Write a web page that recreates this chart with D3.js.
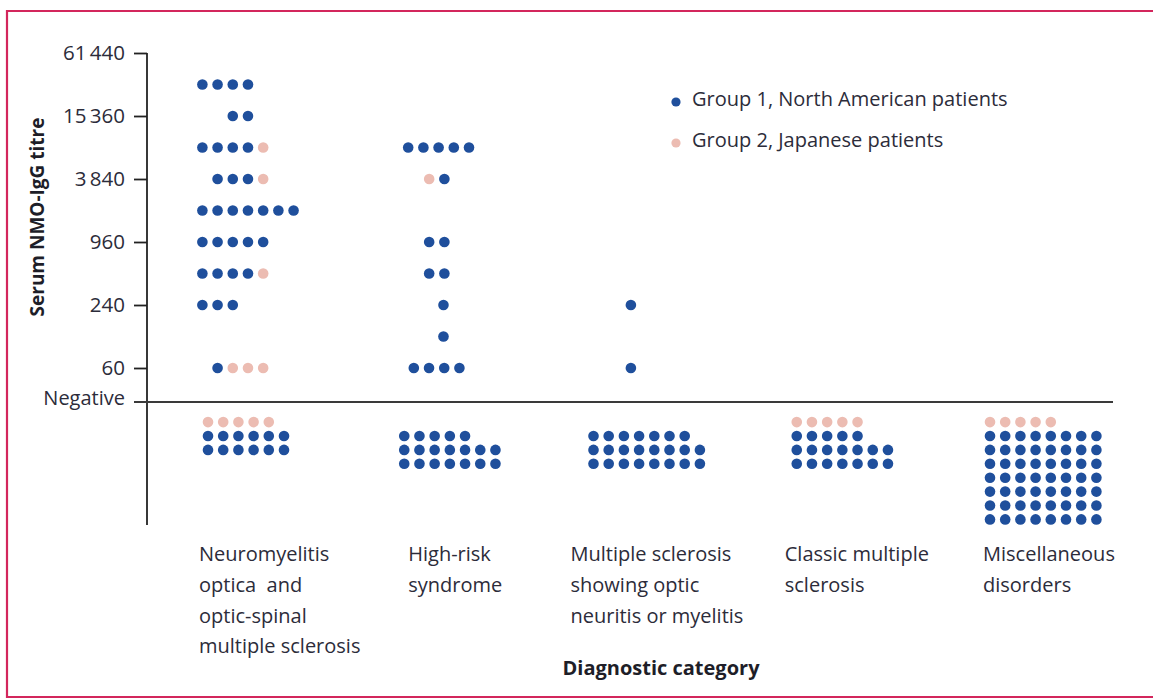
<!DOCTYPE html>
<html>
<head>
<meta charset="utf-8">
<script src="https://cdn.jsdelivr.net/npm/d3@7"></script>
<style>
  html, body { margin: 0; padding: 0; background: #fff; }
  svg { display: block; font-family: "Open Sans", "Noto Sans", sans-serif; }
  tspan { white-space: pre; }
</style>
</head>
<body>
<svg id="chart" width="1153" height="700"></svg>
<script>
// Diagnostic categories (multi-line labels)
const categories = [
  "Neuromyelitis optica and optic-spinal multiple sclerosis",
  "High-risk syndrome",
  "Multiple sclerosis showing optic neuritis or myelitis",
  "Classic multiple sclerosis",
  "Miscellaneous disorders"
];
const categoryLines = [
  ["Neuromyelitis", "optica  and", "optic-spinal", "multiple sclerosis"],
  ["High-risk", "syndrome"],
  ["Multiple sclerosis", "showing optic", "neuritis or myelitis"],
  ["Classic multiple", "sclerosis"],
  ["Miscellaneous", "disorders"]
];

// Titre levels with seropositive patients (doubling dilutions)
const titreLevels = [30720, 15360, 7680, 3840, 1920, 960, 480, 240, 120, 60];
const tickValues = [61440, 15360, 3840, 960, 240, 60];
const tickLabels = ["61\u2009440", "15\u2009360", "3\u2009840", "960", "240", "60"];

// Number of seropositive patients at each titre level, per category
const group1Positive = [
  [4, 2, 4, 3, 7, 5, 4, 3, 0, 1],
  [0, 0, 5, 1, 0, 2, 2, 1, 1, 4],
  [0, 0, 0, 0, 0, 0, 0, 1, 0, 1],
  [0, 0, 0, 0, 0, 0, 0, 0, 0, 0],
  [0, 0, 0, 0, 0, 0, 0, 0, 0, 0]
];
const group2Positive = [
  [0, 0, 1, 1, 0, 0, 1, 0, 0, 3],
  [0, 0, 0, 1, 0, 0, 0, 0, 0, 0],
  [0, 0, 0, 0, 0, 0, 0, 0, 0, 0],
  [0, 0, 0, 0, 0, 0, 0, 0, 0, 0],
  [0, 0, 0, 0, 0, 0, 0, 0, 0, 0]
];

// Seronegative patients per category
const group1Negative = [12, 19, 23, 19, 56];
const group2Negative = [5, 0, 0, 5, 5];

const legendLabels = ["Group 1, North American patients", "Group 2, Japanese patients"];

// ---- layout ----
const colors = { g1: "#1f4f9c", g2: "#ecbcb2" };
const textColor = "#2c2c3a";
const dotR = 5.3;
const stepX = 15.2;   // horizontal spacing between dots
const stepY = 13.9;   // vertical spacing of rows below the baseline
const negCols = [6, 7, 8, 7, 8];          // dots per row in the seronegative block
const anchorNudge = [0, 0, -7, 0, -3];    // fine shift of each category block
const labelNudge = [-9, 4, -30, -12, -10];
const group2Leading = [false, true, false, false, false];
// start column (in dot steps) of each seropositive row
const rowStart = [
  [-0.37, 1.63, -0.37, 0.63, -0.37, -0.37, -0.37, -0.37, 0, 0.63],
  [0, 0, 0.26, 1.64, 0, 1.64, 1.64, 2.58, 2.58, 0.63],
  [0, 0, 0, 0, 0, 0, 0, 2.46, 0, 2.46],
  [0, 0, 0, 0, 0, 0, 0, 0, 0, 0],
  [0, 0, 0, 0, 0, 0, 0, 0, 0, 0]
];

const svg = d3.select("#chart");

// frame
svg.append("path")
  .attr("d", "M1160,11 H7 V697 H1160")
  .attr("fill", "none").attr("stroke", "#d3265c").attr("stroke-width", 2.2);

const axisX = 147;
const baselineY = 402;
const y = d3.scaleLog().base(2).domain([60, 61440]).range([368, 53]);
const x = d3.scalePoint().domain(categories).range([208, 993]);
const anchor = (i) => x(categories[i]) + anchorNudge[i];

// y axis
const yAxis = d3.axisLeft(y)
  .tickValues(tickValues)
  .tickFormat((d, i) => tickLabels[i])
  .tickSize(13)
  .tickPadding(9);
const gy = svg.append("g").attr("transform", `translate(${axisX},0)`).call(yAxis);
gy.select(".domain").remove();
gy.selectAll(".tick line").attr("stroke", "#222").attr("stroke-width", 1.8);
gy.selectAll(".tick text")
  .attr("fill", textColor).attr("font-size", 20.5).attr("font-family", "Open Sans, sans-serif")
  .attr("dy", "0.3em");

svg.append("line")
  .attr("x1", axisX).attr("x2", axisX).attr("y1", 53).attr("y2", 525)
  .attr("stroke", "#222").attr("stroke-width", 1.8);

// baseline separating positive from negative
svg.append("line")
  .attr("x1", 134).attr("x2", 1113).attr("y1", baselineY).attr("y2", baselineY)
  .attr("stroke", "#3a3a3a").attr("stroke-width", 2);
svg.append("text")
  .attr("x", 125).attr("y", baselineY + 3)
  .attr("text-anchor", "end").attr("fill", textColor).attr("font-size", 20)
  .text("Negative");

// axis title
svg.append("text")
  .attr("transform", "translate(44,217) rotate(-90)")
  .attr("text-anchor", "middle").attr("font-weight", "bold").attr("font-size", 19)
  .attr("fill", "#1e1e28")
  .text("Serum NMO-IgG titre");

// build dot list
const dots = [];
categories.forEach((cat, ci) => {
  const a = anchor(ci);
  titreLevels.forEach((t, li) => {
    const n1 = group1Positive[ci][li], n2 = group2Positive[ci][li];
    if (n1 + n2 === 0) return;
    const seq = group2Leading[ci]
      ? d3.range(n2).map(() => "g2").concat(d3.range(n1).map(() => "g1"))
      : d3.range(n1).map(() => "g1").concat(d3.range(n2).map(() => "g2"));
    seq.forEach((g, k) => {
      dots.push({ g, cx: a + (rowStart[ci][li] + k) * stepX, cy: y(t) });
    });
  });
  // seronegative block: group 2 on top row, group 1 filled from the bottom up
  const cols = negCols[ci];
  const n1 = group1Negative[ci];
  const rows = Math.ceil(n1 / cols);
  const rem = n1 % cols;
  const firstRowY = baselineY + 34;
  for (let k = 0; k < n1; k++) {
    const fromEnd = n1 - 1 - k;
    const row = rows - 1 - Math.floor(fromEnd / cols);
    const col = (row === 0 && rem !== 0) ? k : (k - rem) % cols;
    dots.push({ g: "g1", cx: a + col * stepX, cy: firstRowY + row * stepY });
  }
  for (let k = 0; k < group2Negative[ci]; k++) {
    dots.push({ g: "g2", cx: a + k * stepX, cy: firstRowY - stepY });
  }
});

svg.append("g").selectAll("circle").data(dots).join("circle")
  .attr("cx", d => d.cx).attr("cy", d => d.cy).attr("r", dotR)
  .attr("fill", d => colors[d.g]);

// category labels
categories.forEach((cat, ci) => {
  const lx = x(cat) + labelNudge[ci];
  const t = svg.append("text").attr("fill", textColor).attr("font-size", 20);
  categoryLines[ci].forEach((line, li) => {
    t.append("tspan").attr("x", lx).attr("y", 561 + li * 30.8).text(line);
  });
});

svg.append("text")
  .attr("x", 661).attr("y", 675).attr("text-anchor", "middle")
  .attr("font-weight", "bold").attr("font-size", 20).attr("fill", "#1e1e28")
  .text("Diagnostic category");

// legend
const legend = svg.append("g");
legendLabels.forEach((lab, i) => {
  legend.append("circle").attr("cx", 676).attr("cy", 102 + i * 41).attr("r", 4.6)
    .attr("fill", i === 0 ? colors.g1 : colors.g2);
  legend.append("text").attr("x", 692).attr("y", 106 + i * 41)
    .attr("fill", textColor).attr("font-size", 20).text(lab);
});
</script>
</body>
</html>
